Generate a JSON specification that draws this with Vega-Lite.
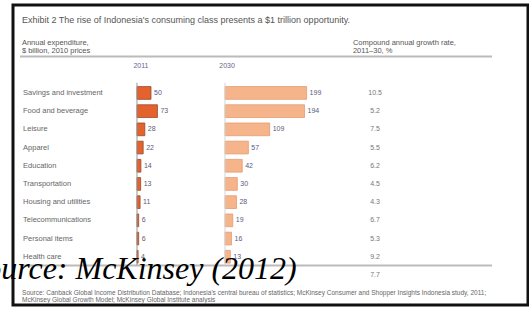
{
  "$schema": "https://vega.github.io/schema/vega-lite/v6.json",
  "width": 515,
  "height": 300,
  "autosize": "none",
  "padding": {"left": 13, "top": 5, "right": 1, "bottom": 6},
  "background": "#ffffff",
  "config": {"view": {"stroke": "#111111", "strokeWidth": 3}, "font": "Liberation Sans"},
  "datasets": {
    "spend": [
      {"cat": "Savings and investment", "v2011": 50, "v2030": 199},
      {"cat": "Food and beverage", "v2011": 73, "v2030": 194},
      {"cat": "Leisure", "v2011": 28, "v2030": 109},
      {"cat": "Apparel", "v2011": 22, "v2030": 57},
      {"cat": "Education", "v2011": 14, "v2030": 42},
      {"cat": "Transportation", "v2011": 13, "v2030": 30},
      {"cat": "Housing and utilities", "v2011": 11, "v2030": 28},
      {"cat": "Telecommunications", "v2011": 6, "v2030": 19},
      {"cat": "Personal items", "v2011": 6, "v2030": 16},
      {"cat": "Health care", "v2011": 4, "v2030": 13}
    ],
    "cagr": [
      {"cat": "Savings and investment", "cagr": 10.5},
      {"cat": "Food and beverage", "cagr": 5.2},
      {"cat": "Leisure", "cagr": 7.5},
      {"cat": "Apparel", "cagr": 5.5},
      {"cat": "Education", "cagr": 6.2},
      {"cat": "Transportation", "cagr": 4.5},
      {"cat": "Housing and utilities", "cagr": 4.3},
      {"cat": "Telecommunications", "cagr": 6.7},
      {"cat": "Personal items", "cagr": 5.3},
      {"cat": "Health care", "cagr": 9.2},
      {"cat": "Total", "cagr": 7.7}
    ]
  },
  "layer": [
    {
      "layer": [
        {
          "data": {"name": "spend"},
          "mark": {"type": "bar", "fill": "#e4622e", "stroke": "#9c4a2a", "strokeWidth": 0.8},
          "encoding": {
            "y": {"field": "cat", "type": "nominal", "axis": null, "scale": {"type": "band", "domain": ["r_title","r_head","r_rule","r_years","Savings and investment","Food and beverage","Leisure","Apparel","Education","Transportation","Housing and utilities","Telecommunications","Personal items","Health care","Total","r_foot"], "range": [8.8, 294.5], "paddingInner": 0.3, "paddingOuter": 0}},
            "x": {"field": "v2011", "type": "quantitative", "axis": null, "scale": {"domain": [-442.857, 1396.43], "nice": false}}
          }
        },
        {
          "data": {"name": "spend"},
          "mark": {"type": "text", "align": "left", "baseline": "middle", "dx": 3, "fontSize": 7, "fill": "#5b5b7b"},
          "encoding": {
            "y": {"field": "cat", "type": "nominal", "axis": null},
            "x": {"field": "v2011", "type": "quantitative", "axis": null},
            "text": {"field": "v2011", "type": "quantitative"}
          }
        },
        {
          "data": {"name": "spend"},
          "mark": {"type": "text", "align": "left", "baseline": "middle", "fontSize": 7.5, "fill": "#666666"},
          "encoding": {
            "y": {"field": "cat", "type": "nominal", "axis": null},
            "x": {"datum": -407, "type": "quantitative", "axis": null},
            "text": {"field": "cat", "type": "nominal"}
          }
        },
        {
          "data": {"values": [{"t": "Exhibit 2 The rise of Indonesia's consuming class presents a $1 trillion opportunity."}]},
          "mark": {"type": "text", "align": "left", "baseline": "middle", "fontSize": 9, "fill": "#555555"},
          "encoding": {
            "y": {"datum": "r_title", "type": "nominal", "axis": null},
            "x": {"datum": -411, "type": "quantitative", "axis": null},
            "text": {"field": "t", "type": "nominal"}
          }
        },
        {
          "data": {"values": [{"t": "Annual expenditure,\n$ billion, 2010 prices"}]},
          "mark": {"type": "text", "align": "left", "baseline": "middle", "fontSize": 7.5, "fill": "#555555", "lineBreak": "\n", "lineHeight": 8, "dy": 5},
          "encoding": {
            "y": {"datum": "r_head", "type": "nominal", "axis": null},
            "x": {"datum": -411, "type": "quantitative", "axis": null},
            "text": {"field": "t", "type": "nominal"}
          }
        },
        {
          "data": {"values": [{"t": "2011"}]},
          "mark": {"type": "text", "align": "center", "baseline": "middle", "fontSize": 7, "fill": "#6a5f8f", "dy": -9},
          "encoding": {
            "y": {"datum": "r_years", "type": "nominal", "axis": null},
            "x": {"datum": 14, "type": "quantitative", "axis": null},
            "text": {"field": "t", "type": "nominal"}
          }
        },
        {
          "data": {"values": [{"line": "header"}]},
          "mark": {"type": "rule", "stroke": "#bbbbbb", "strokeWidth": 2},
          "encoding": {
            "y": {"datum": "r_rule", "type": "nominal", "axis": null},
            "x": {"datum": -418, "type": "quantitative", "axis": null},
            "x2": {"datum": 1268}
          }
        },
        {
          "data": {"values": [{"line": "total"}]},
          "mark": {"type": "rule", "stroke": "#bbbbbb", "strokeWidth": 2},
          "encoding": {
            "y": {"datum": "Total", "type": "nominal", "axis": null, "bandPosition": -0.25},
            "x": {"datum": -418, "type": "quantitative", "axis": null},
            "x2": {"datum": 1268}
          }
        },
        {
          "data": {"values": [{"line": "base2011"}]},
          "mark": {"type": "rule", "stroke": "#999999", "strokeWidth": 1},
          "encoding": {
            "x": {"datum": 0, "type": "quantitative", "axis": null},
            "y": {"datum": "Savings and investment", "type": "nominal", "axis": null, "bandPosition": -0.3},
            "y2": {"datum": "Total", "bandPosition": -0.25}
          }
        }
      ]
    },
    {
      "layer": [
        {
          "data": {"name": "spend"},
          "mark": {"type": "bar", "fill": "#f6b48a", "stroke": "#e49b72", "strokeWidth": 0.8},
          "encoding": {
            "y": {"field": "cat", "type": "nominal", "axis": null},
            "x": {"field": "v2030", "type": "quantitative", "axis": null, "scale": {"domain": [-517.07, 739.02], "nice": false}}
          }
        },
        {
          "data": {"name": "spend"},
          "mark": {"type": "text", "align": "left", "baseline": "middle", "dx": 3, "fontSize": 7, "fill": "#5b5b7b"},
          "encoding": {
            "y": {"field": "cat", "type": "nominal", "axis": null},
            "x": {"field": "v2030", "type": "quantitative", "axis": null},
            "text": {"field": "v2030", "type": "quantitative"}
          }
        },
        {
          "data": {"values": [{"line": "base2030"}]},
          "mark": {"type": "rule", "stroke": "#d5d5d5", "strokeWidth": 1},
          "encoding": {
            "x": {"datum": 0, "type": "quantitative", "axis": null},
            "y": {"datum": "Savings and investment", "type": "nominal", "axis": null, "bandPosition": -0.3},
            "y2": {"datum": "Total", "bandPosition": -0.25}
          }
        },
        {
          "data": {"values": [{"t": "2030"}]},
          "mark": {"type": "text", "align": "center", "baseline": "middle", "fontSize": 7, "fill": "#6a5f8f", "dy": -9},
          "encoding": {
            "y": {"datum": "r_years", "type": "nominal", "axis": null},
            "x": {"datum": 5, "type": "quantitative", "axis": null},
            "text": {"field": "t", "type": "nominal"}
          }
        },
        {
          "data": {"name": "cagr"},
          "mark": {"type": "text", "align": "center", "baseline": "middle", "fontSize": 7, "fill": "#777777"},
          "encoding": {
            "y": {"field": "cat", "type": "nominal", "axis": null},
            "x": {"datum": 366, "type": "quantitative", "axis": null},
            "text": {"field": "cagr", "type": "quantitative", "format": ".1f"}
          }
        },
        {
          "data": {"values": [{"t": "Compound annual growth rate,\n2011–30, %"}]},
          "mark": {"type": "text", "align": "left", "baseline": "middle", "fontSize": 7.5, "fill": "#555555", "lineBreak": "\n", "lineHeight": 8, "dy": 5},
          "encoding": {
            "y": {"datum": "r_head", "type": "nominal", "axis": null},
            "x": {"datum": 312, "type": "quantitative", "axis": null},
            "text": {"field": "t", "type": "nominal"}
          }
        },
        {
          "data": {"values": [{"t": "Source: Canback Global Income Distribution Database; Indonesia's central bureau of statistics; McKinsey Consumer and Shopper Insights Indonesia study, 2011;\nMcKinsey Global Growth Model; McKinsey Global Institute analysis"}]},
          "mark": {"type": "text", "align": "left", "baseline": "middle", "fontSize": 6.5, "fill": "#666666", "lineBreak": "\n", "lineHeight": 7},
          "encoding": {
            "y": {"datum": "r_foot", "type": "nominal", "axis": null},
            "x": {"datum": -495, "type": "quantitative", "axis": null},
            "text": {"field": "t", "type": "nominal"}
          }
        },
        {
          "data": {"values": [{"t": "Source: McKinsey (2012)"}]},
          "mark": {"type": "text", "align": "left", "baseline": "alphabetic", "font": "Liberation Serif", "fontStyle": "italic", "fontSize": 32, "fill": "#000000", "dy": 4},
          "encoding": {
            "y": {"datum": "Total", "type": "nominal", "axis": null},
            "x": {"datum": -624, "type": "quantitative", "axis": null},
            "text": {"field": "t", "type": "nominal"}
          }
        }
      ]
    }
  ],
  "resolve": {"scale": {"x": "independent"}}
}
